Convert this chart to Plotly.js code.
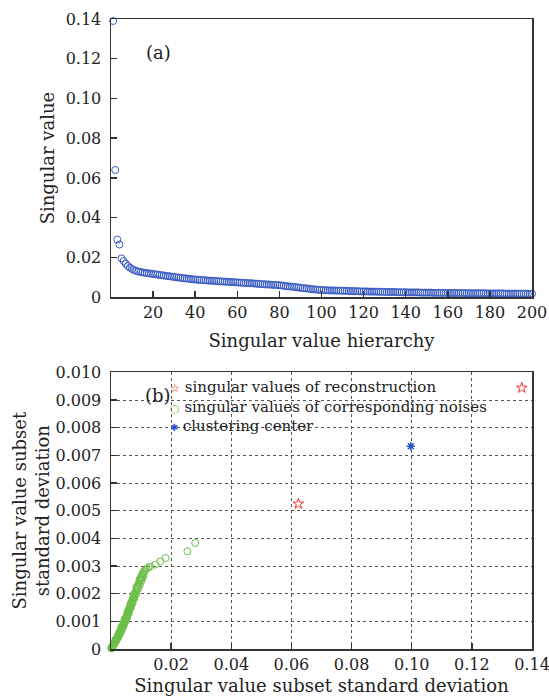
<!DOCTYPE html>
<html>
<head>
<meta charset="utf-8">
<script src="https://cdn.plot.ly/plotly-3.0.1.min.js"></script>
<style>html,body{margin:0;padding:0;background:#fff;}#chart{width:549px;height:699px;}</style>
</head>
<body>
<div id="chart"></div>
<script>
// ---- Panel (a): singular values vs hierarchy ----
const singularValues = [
0.1390,0.0640,0.0290,0.0265,0.0195,0.0182,0.0168,0.0157,0.0149,0.0142,
0.0136,0.0132,0.0129,0.0127,0.0125,0.0123,0.0121,0.0120,0.0118,0.0117,
0.0115,0.0114,0.0112,0.0111,0.0109,0.0108,0.0106,0.0105,0.0103,0.0102,
0.0100,0.0099,0.0098,0.0096,0.0095,0.0094,0.0093,0.0091,0.0090,0.0089,
0.0088,0.0087,0.0087,0.0086,0.0085,0.0084,0.0083,0.0083,0.0082,0.0081,
0.0080,0.0080,0.0079,0.0078,0.0078,0.0077,0.0076,0.0076,0.0075,0.0074,
0.0074,0.0073,0.0072,0.0072,0.0071,0.0070,0.0070,0.0069,0.0068,0.0067,
0.0066,0.0066,0.0065,0.0064,0.0064,0.0063,0.0062,0.0062,0.0061,0.0060,
0.0059,0.0058,0.0056,0.0055,0.0054,0.0053,0.0052,0.0050,0.0049,0.0047,
0.0046,0.0045,0.0044,0.0043,0.0041,0.0040,0.0039,0.0038,0.0037,0.0036,
0.0036,0.0035,0.0035,0.0034,0.0034,0.0034,0.0033,0.0033,0.0033,0.0032,
0.0032,0.0032,0.0031,0.0031,0.0031,0.0030,0.0030,0.0030,0.0029,0.0029,
0.0029,0.0029,0.0028,0.0028,0.0028,0.0028,0.0027,0.0027,0.0027,0.0027,
0.0026,0.0026,0.0026,0.0026,0.0026,0.0025,0.0025,0.0025,0.0025,0.0025,
0.0024,0.0024,0.0024,0.0024,0.0024,0.0024,0.0023,0.0023,0.0023,0.0023,
0.0023,0.0023,0.0022,0.0022,0.0022,0.0022,0.0022,0.0022,0.0022,0.0022,
0.0021,0.0021,0.0021,0.0021,0.0021,0.0021,0.0021,0.0021,0.0020,0.0020,
0.0020,0.0020,0.0020,0.0020,0.0020,0.0020,0.0020,0.0019,0.0019,0.0019,
0.0019,0.0019,0.0019,0.0019,0.0019,0.0019,0.0018,0.0018,0.0018,0.0018,
0.0018,0.0018,0.0018,0.0018,0.0018,0.0018,0.0018,0.0017,0.0017,0.0017
];
const hierarchy = singularValues.map((v, i) => i + 1);
const hierTicks = [20,40,60,80,100,120,140,160,180,200];
const svTicks = [0,0.02,0.04,0.06,0.08,0.10,0.12,0.14];
const svTickText = ["0","0.02","0.04","0.06","0.08","0.10","0.12","0.14"];

// ---- Panel (b): subset standard deviations ----
const reconX = [0.1366, 0.0623];
const reconY = [0.00944, 0.00525];
const centerX = [0.0997];
const centerY = [0.00733];
const noiseX = [
0.0001,0.0002,0.0003,0.0004,0.0005,0.0006,0.0007,0.0008,0.0009,0.0010,
0.0011,0.0012,0.0013,0.0014,0.0015,0.0016,0.0017,0.0018,0.0019,0.0020,
0.0021,0.0022,0.0023,0.0024,0.0025,0.0026,0.0027,0.0028,0.0029,0.0030,
0.0031,0.0032,0.0033,0.0034,0.0035,0.0036,0.0037,0.0038,0.0039,0.0040,
0.0041,0.0042,0.0043,0.0044,0.0045,0.0046,0.0047,0.0048,0.0049,0.0050,
0.0051,0.0052,0.0053,0.0054,0.0055,0.0056,0.0057,0.0058,0.0059,0.0060,
0.0061,0.0062,0.0063,0.0064,0.0065,0.0066,0.0067,0.0068,0.0069,0.0070,
0.0071,0.0072,0.0073,0.0074,0.0075,0.0076,0.0077,0.0078,0.0079,0.0080,
0.0082,0.0084,0.0086,0.0088,0.0090,0.0092,0.0094,0.0096,0.0098,0.0100,
0.0102,0.0104,0.0106,0.0108,0.0111,0.0114,0.0118,0.0124,0.0130,0.0147,
0.0164,0.0182,0.0254,0.0280,
0.0012,0.0018,0.0024,0.0030,0.0036,0.0042,0.0048,0.0054,0.0060,0.0066,
0.0072,0.0078,0.0084,0.0090,0.0096,0.0101,0.0105,0.0109,
0.0015,0.0025,0.0035,0.0045,0.0055,0.0065,0.0075,0.0085,0.0095
];
const noiseY = [
0.00002,0.00004,0.00006,0.00008,0.00009,0.00011,0.00013,0.00015,0.00017,0.00019,
0.00021,0.00023,0.00025,0.00027,0.00029,0.00031,0.00033,0.00035,0.00037,0.00039,
0.00041,0.00043,0.00045,0.00047,0.00049,0.00052,0.00054,0.00056,0.00059,0.00061,
0.00064,0.00066,0.00069,0.00071,0.00074,0.00076,0.00079,0.00081,0.00084,0.00086,
0.00089,0.00091,0.00094,0.00097,0.00099,0.00102,0.00104,0.00107,0.00110,0.00112,
0.00115,0.00118,0.00121,0.00124,0.00127,0.00130,0.00133,0.00136,0.00139,0.00142,
0.00145,0.00148,0.00151,0.00154,0.00157,0.00160,0.00163,0.00166,0.00169,0.00172,
0.00175,0.00178,0.00181,0.00184,0.00187,0.00190,0.00193,0.00196,0.00199,0.00202,
0.00207,0.00212,0.00218,0.00224,0.00230,0.00236,0.00242,0.00248,0.00254,0.00260,
0.00265,0.00270,0.00274,0.00278,0.00282,0.00286,0.00290,0.00294,0.00298,0.00305,
0.00317,0.00329,0.00353,0.00383,
0.00020,0.00031,0.00042,0.00054,0.00068,0.00083,0.00098,0.00114,0.00131,0.00149,
0.00166,0.00184,0.00200,0.00216,0.00232,0.00246,0.00258,0.00268,
0.00034,0.00056,0.00081,0.00107,0.00135,0.00165,0.00196,0.00224,0.00252
];
const sdXTicks = [0.02,0.04,0.06,0.08,0.10,0.12,0.14];
const sdXTickText = ["0.02","0.04","0.06","0.08","0.10","0.12","0.14"];
const sdYTicks = [0,0.001,0.002,0.003,0.004,0.005,0.006,0.007,0.008,0.009,0.010];
const sdYTickText = ["0","0.001","0.002","0.003","0.004","0.005","0.006","0.007","0.008","0.009","0.010"];
const legendNames = ["singular values of reconstruction","singular values of corresponding noises","clustering center"];

const FONT = "DejaVu Serif";
const AX = "#333333";
const TXT = "#222222";
const C_SV = "#3a5cc4", C_NOISE = "#6cc04a", C_RECON = "#ff3030", C_CENTER = "#2a52c8";

const traces = [
  {x: hierarchy, y: singularValues, xaxis: "x", yaxis: "y", type: "scatter", mode: "markers",
   marker: {symbol: "circle-open", size: 7, color: C_SV, line: {width: 1}}, cliponaxis: false, showlegend: false},
  {x: noiseX, y: noiseY, xaxis: "x2", yaxis: "y2", type: "scatter", mode: "markers", name: legendNames[1],
   marker: {symbol: "circle-open", size: 7, color: C_NOISE, line: {width: 1}}, cliponaxis: false, showlegend: false},
  {x: reconX, y: reconY, xaxis: "x2", yaxis: "y2", type: "scatter", mode: "markers", name: legendNames[0],
   marker: {symbol: "star-open", size: 8, color: C_RECON, line: {width: 1}}, cliponaxis: false, showlegend: false},
  {x: centerX, y: centerY, xaxis: "x2", yaxis: "y2", type: "scatter", mode: "markers", name: legendNames[2],
   marker: {symbol: "asterisk-open", size: 7, color: C_CENTER, line: {width: 1.5}}, cliponaxis: false, showlegend: false}
];

function axisBase() {
  return {showline: true, linecolor: AX, linewidth: 1.5, mirror: true, ticks: "inside", ticklen: 6,
          tickcolor: AX, tickwidth: 1.5, zeroline: false, tickfont: {family: FONT, size: 16, color: TXT},
          showgrid: false, tickmode: "array", automargin: false, ticklabeloverflow: "allow"};
}

const L = 110.8, R = 532, T = 19.3, B = 649.3, W = 549, H = 699;
const ph = B - T;
const py = p => 1 - (p - T) / ph;
const px = p => (p - L) / (R - L);

const sym = (ch, col, sz) => '<span style="color:' + col + ';font-size:' + sz + 'px">' + ch + '</span> ';
const legendText = sym("☆", C_RECON, 11) + legendNames[0] + "<br>" +
                   sym("○", C_NOISE, 11) + legendNames[1] + "<br>" +
                   sym("✱", C_CENTER, 10) + legendNames[2];

const layout = {
  width: W, height: H,
  margin: {l: L, r: W - R, t: T, b: H - B},
  paper_bgcolor: "#fff", plot_bgcolor: "#fff",
  font: {family: FONT, color: TXT},
  showlegend: false,
  xaxis: Object.assign(axisBase(), {domain: [0, 1], anchor: "y", range: [0, 200], tickvals: hierTicks,
    title: {text: "Singular value hierarchy", font: {family: FONT, size: 18, color: TXT}, standoff: 13}}),
  yaxis: Object.assign(axisBase(), {domain: [py(297.5), 1], anchor: "x", range: [0, 0.14], tickvals: svTicks, ticktext: svTickText,
    ticklabelstandoff: 5,
    title: {text: "Singular value", font: {family: FONT, size: 18, color: TXT}, standoff: 6}}),
  xaxis2: Object.assign(axisBase(), {domain: [0, 1], anchor: "y2", range: [0, 0.14], tickvals: sdXTicks, ticktext: sdXTickText,
    showgrid: true, gridcolor: "#555", griddash: "dot", gridwidth: 1,
    title: {text: "Singular value subset standard deviation", font: {family: FONT, size: 18, color: TXT}, standoff: 6}}),
  yaxis2: Object.assign(axisBase(), {domain: [0, py(372.7)], anchor: "x2", range: [0, 0.010], tickvals: sdYTicks, ticktext: sdYTickText,
    showgrid: true, gridcolor: "#555", griddash: "dot", gridwidth: 1, ticklabelstandoff: 5,
    title: {text: "Singular value subset<br>standard deviation", font: {family: FONT, size: 18, color: TXT}, standoff: 1}}),
  annotations: [
    {text: "(a)", xref: "paper", yref: "paper", x: px(144), y: py(40), showarrow: false, font: {family: FONT, size: 18, color: TXT}},
    {text: "(b)", xref: "paper", yref: "paper", x: px(143), y: py(396), showarrow: false, font: {family: FONT, size: 18, color: TXT}},
    {text: legendText, xref: "paper", yref: "paper", x: px(168), y: py(376), xanchor: "left", yanchor: "top", align: "left",
     showarrow: false, font: {family: FONT, size: 15, color: TXT}}
  ]
};

Plotly.newPlot("chart", traces, layout, {displayModeBar: false, staticPlot: true});
</script>
</body>
</html>
